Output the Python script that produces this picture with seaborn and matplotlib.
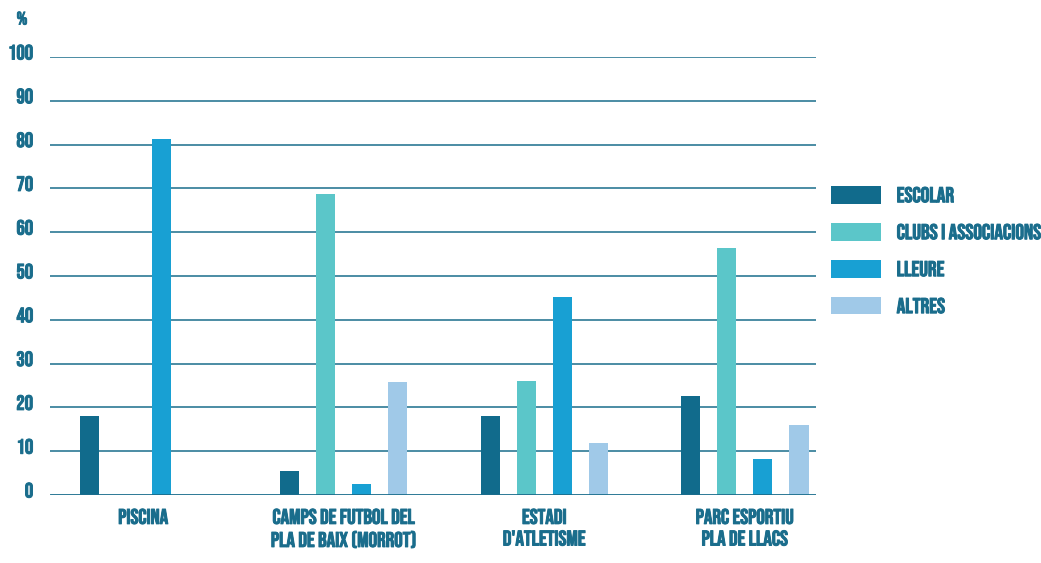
import pandas as pd
import seaborn as sns
import matplotlib.pyplot as plt
import matplotlib.transforms as mtransforms
import matplotlib.patheffects as pe
from matplotlib.patches import Patch


#
# data
#

groups = ["PISCINA", "CAMPS DE FUTBOL DEL\nPLA DE BAIX (MORROT)", "ESTADI\nD'ATLETISME", "PARC ESPORTIU\nPLA DE LLACS"]
series = ["ESCOLAR", "CLUBS I ASSOCIACIONS", "LLEURE", "ALTRES"]

escolar = [18, 5.5, 18, 22.7]
clubs   = [0, 68.7, 26, 56.3]
lleure  = [81.3, 2.5, 45.3, 8.2]
altres  = [0, 25.9, 11.9, 16]

yticks = [0, 10, 20, 30, 40, 50, 60, 70, 80, 90, 100]

colors = ["#116b8c", "#5bc6c9", "#18a0d3", "#a0c9e8"]
text_color = "#1a6d8c"


#
# style
#

sns.set_theme(style="white")
fonts = ['Bebas Neue', 'Oswald', 'Roboto Condensed', 'IBM Plex Sans Condensed', 'DejaVu Sans']
plt.rcParams['font.family'] = fonts

# the reference type is heavier than Bebas Neue regular -> thin outline
bold = [pe.withStroke(linewidth=0.7, foreground=text_color)]

df = pd.DataFrame({
    "group": groups * 4,
    "series": [s for s in series for _ in groups],
    "value": escolar + clubs + lleure + altres,
})

fig = plt.figure(figsize=(10.41, 5.63), dpi=100)
ax = fig.add_axes([50 / 1041, 68 / 563, 766 / 1041, 438 / 563])

sns.barplot(data=df, x="group", y="value", hue="series", hue_order=series,
            palette=colors, width=0.72, gap=0.47, linewidth=0,
            saturation=1, legend=False, ax=ax, zorder=3)

# gridlines
for t in yticks[1:]:
    ax.axhline(t, color=text_color, linewidth=1.1, zorder=1)
ax.axhline(0, color=text_color, linewidth=2, zorder=4)

ax.set_xlim(-0.465, 3.355)
ax.set_ylim(0, 100)
sns.despine(ax=ax, left=True, bottom=True)

ax.set_xlabel("")
ax.set_ylabel("")
ax.set_yticks(yticks)
ax.set_yticklabels([str(t) for t in yticks], color=text_color, fontsize=15, path_effects=bold)
ax.tick_params(axis="y", length=0, pad=12)
ax.tick_params(axis="x", length=0, pad=10)
ax.set_xticks(range(len(groups)))
ax.set_xticklabels(groups, color=text_color, fontsize=15.3, linespacing=1.44, va="top", path_effects=bold)

# lift tick labels above their gridline
shift = mtransforms.ScaledTranslation(0, 5 / 100, fig.dpi_scale_trans)
for lbl in ax.get_yticklabels():
    lbl.set_transform(lbl.get_transform() + shift)

fig.text(22 / 1041, 1 - 18 / 563, "%", color=text_color, fontsize=13, ha="center", va="center", path_effects=bold)

handles = [Patch(facecolor=c, edgecolor="none") for c in colors]
leg = fig.legend(handles, series, loc="upper left", bbox_to_anchor=(831 / 1041, 1 - 186 / 563),
                 frameon=False, fontsize=15.5, handlelength=2.33, handleheight=0.88,
                 handletextpad=0.72, labelspacing=0.9, borderpad=0, borderaxespad=0)
for t in leg.get_texts():
    t.set_color(text_color)
    t.set_path_effects(bold)

plt.savefig("out.png", dpi=100)
